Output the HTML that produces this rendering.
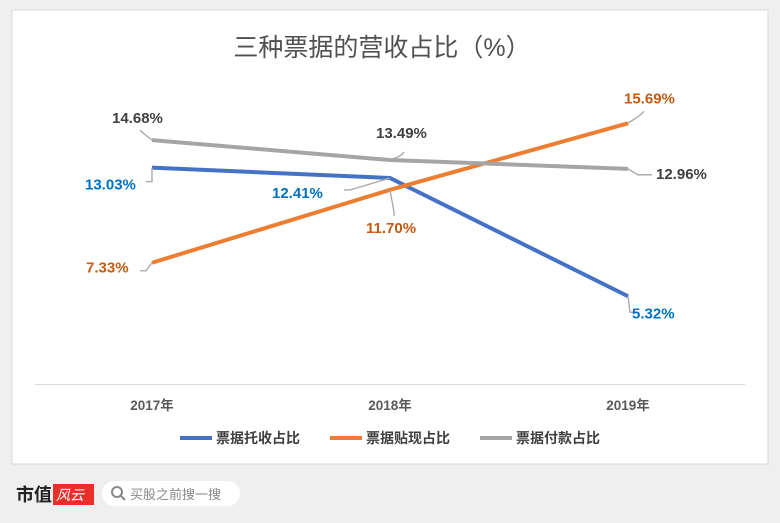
<!DOCTYPE html>
<html><head><meta charset="utf-8"><style>
body{margin:0;width:780px;height:518px;background:#efefef;font-family:"Liberation Sans","Noto Sans CJK SC",sans-serif;overflow:hidden}
</style></head><body>
<svg width="780" height="518" xmlns="http://www.w3.org/2000/svg">
<rect x="0" y="0" width="780" height="518" rx="14" fill="#efefef"/>
<rect x="12" y="10" width="756" height="454" fill="#fff" stroke="#d9d9d9"/>
<text x="382" y="56" text-anchor="middle" font-size="25" fill="#505050" font-family="Liberation Sans,Noto Sans CJK SC,sans-serif">三种票据的营收占比（%）</text>
<line x1="35" y1="384.5" x2="745" y2="384.5" stroke="#d9d9d9"/>
<g id="xl" font-size="13.5" font-weight="bold" fill="#595959" text-anchor="middle"></g>
<g id="series"></g>
<g id="labels" font-size="15" font-weight="bold"></g>
<g font-size="14" fill="#404040" font-weight="bold">
<g><line x1="180" y1="438" x2="212" y2="438" stroke="#4472c4" stroke-width="4"/><text x="216" y="443">票据托收占比</text></g>
<g><line x1="330" y1="438" x2="362" y2="438" stroke="#ed7d31" stroke-width="4"/><text x="366" y="443">票据贴现占比</text></g>
<g><line x1="480" y1="438" x2="512" y2="438" stroke="#a5a5a5" stroke-width="4"/><text x="516" y="443">票据付款占比</text></g>
</g>
<g><text x="16" y="501" font-size="18" font-weight="bold" fill="#222">市值</text><rect x="53" y="484" width="41" height="21" fill="#e8302a"/><text x="56" y="500" font-size="14" fill="#fff" font-style="italic">风云</text></g>
<g><rect x="102" y="481" width="138" height="25" rx="12.5" fill="#fff"/><circle cx="117" cy="492" r="5" fill="none" stroke="#888" stroke-width="2"/><line x1="121" y1="496" x2="125" y2="500" stroke="#888" stroke-width="2"/><text x="130" y="499" font-size="13" fill="#888">买股之前搜一搜</text></g>
</svg>
<script>
const categories=["2017年","2018年","2019年"];
const tuoshou=[13.03,12.41,5.32];
const tiexian=[7.33,11.70,15.69];
const fukuan=[14.68,13.49,12.96];
const NS="http://www.w3.org/2000/svg";
const xs=i=>152+i*238;
const ys=v=>385-v*16.68;
const xl=document.getElementById('xl');
categories.forEach((c,i)=>{const t=document.createElementNS(NS,'text');


t.setAttribute('x',xs(i));t.setAttribute('y',410);t.textContent=c;xl.appendChild(t);});
const sg=document.getElementById('series'),lg=document.getElementById('labels');
function series(data,color,name,lc,offs){
 const p=document.createElementNS(NS,'polyline');
 
 
 p.setAttribute('points',data.map((v,i)=>xs(i)+','+ys(v)).join(' '));
 p.setAttribute('fill','none');p.setAttribute('stroke',color);p.setAttribute('stroke-width','4');
 sg.appendChild(p);
 data.forEach((v,i)=>{const o=offs[i];const x=xs(i),y=ys(v);
  const l=document.createElementNS(NS,'polyline');
  
  
  l.setAttribute('points',`${x},${y} ${x+o[2]},${y+o[3]} ${x+o[4]},${y+o[5]}`);
  l.setAttribute('fill','none');l.setAttribute('stroke','#a5a5a5');l.setAttribute('stroke-width','1.3');lg.appendChild(l);
  const t=document.createElementNS(NS,'text');
  
  
  t.setAttribute('x',x+o[0]);t.setAttribute('y',y+o[1]);t.setAttribute('fill',lc);
  t.textContent=v.toFixed(2)+'%';lg.appendChild(t);});
}
series(tuoshou,'#4472c4','series-tuoshou','#0070c0',[[-67,22,0,14,-6,14],[-118,20,-40,12,-46,12],[4,22,2,16,8,16]]);
series(tiexian,'#ed7d31','series-tiexian','#c55a11',[[-66,10,-6,8,-12,8],[-24,43,4,22,4,26],[-4,-20,12,-8,16,-12]]);
series(fukuan,'#a5a5a5','series-fukuan','#404040',[[-40,-17,-10,-8,-12,-10],[-14,-22,10,-4,14,-8],[28,10,10,6,24,6]]);
</script>
</body></html>
